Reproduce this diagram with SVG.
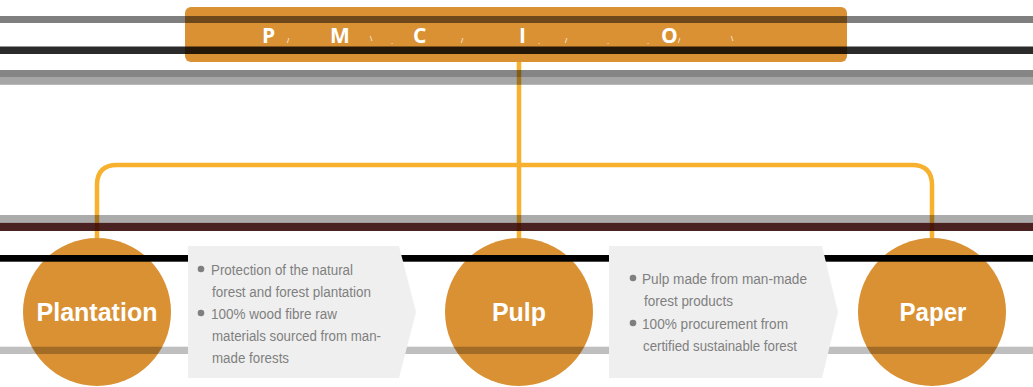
<svg xmlns="http://www.w3.org/2000/svg" width="1033" height="387" viewBox="0 0 1033 387">
<style>
.orange{fill:#d99134}
.conn{fill:none;stroke:#f7b12e;stroke-width:4.5}
.lbl{font-family:"Liberation Sans",Arial,sans-serif;font-weight:bold;fill:#ffffff;text-anchor:middle}
.title{font-family:"Open Sans","Liberation Sans",Arial,sans-serif;font-weight:bold;fill:#ffffff;font-size:21px}
.mark{font-family:"Liberation Sans",Arial,sans-serif;fill:#ffffff;font-size:8px}
.info{fill:#efefef}
.txt{font-family:"Liberation Sans",Arial,sans-serif;font-size:15.5px;fill:#7f7f7f}
.dot{fill:#7f7f7f}
</style>
<rect width="1033" height="387" fill="#ffffff"/>
<g id="node-top">
<rect x="185" y="7" width="662" height="55" rx="6" class="orange"/>
<text class="title" x="262" y="43">P</text>
<text class="mark" x="287" y="43">/</text>
<text class="title" x="330" y="43">M</text>
<text class="mark" x="370" y="41">\</text>
<text class="mark" x="391" y="44">.</text>
<text class="title" x="413" y="43">C</text>
<text class="mark" x="461" y="43">/</text>
<text class="title" x="519" y="43">I</text>
<text class="mark" x="538" y="44">.</text>
<text class="mark" x="565" y="43">/</text>
<text class="mark" x="607" y="44">.</text>
<text class="mark" x="647" y="44">.</text>
<text class="title" x="661" y="43">O</text>
<text class="mark" x="678" y="43">/</text>
<text class="mark" x="731" y="41">\</text>
</g>
<g id="connectors">
<path class="conn" d="M519,62 V238"/>
<path class="conn" d="M97,238 V185 Q97,165 117,165 H912 Q932,165 932,185 V238"/>
</g>
<g id="node-plantation">
<circle cx="97" cy="312" r="74" class="orange"/>
</g>
<g id="node-pulp">
<circle cx="519" cy="312" r="74" class="orange"/>
</g>
<g id="node-paper">
<circle cx="932" cy="312" r="74" class="orange"/>
</g>
<g id="bands">
<rect x="0" y="16" width="1033" height="7" fill="#000" opacity="0.5"/>
<rect x="0" y="46.5" width="1033" height="7.5" fill="#000" opacity="0.83"/>
<rect x="0" y="70" width="1033" height="7.3" fill="#000" opacity="0.48"/>
<rect x="0" y="77.3" width="1033" height="7.5" fill="#000" opacity="0.35"/>
<rect x="0" y="215" width="1033" height="7.8" fill="#000" opacity="0.33"/>
<rect x="0" y="222.8" width="1033" height="8.2" fill="#2f0101" opacity="0.87"/>
<rect x="0" y="255" width="1033" height="6.7" fill="#000"/>
<rect x="0" y="346.7" width="1033" height="7.3" fill="#000" opacity="0.25"/>
</g>
<g id="info-1">
<polygon class="info" points="188,246 399,246 416,312 399,378 188,378"/>
<circle class="dot" cx="201" cy="269" r="3.3"/>
<circle class="dot" cx="201" cy="313" r="3.3"/>
<text class="txt" x="211" y="275" textLength="142" lengthAdjust="spacingAndGlyphs">Protection of the natural</text>
<text class="txt" x="212" y="296.5" textLength="159" lengthAdjust="spacingAndGlyphs">forest and forest plantation</text>
<text class="txt" x="211" y="319" textLength="126" lengthAdjust="spacingAndGlyphs">100% wood fibre raw</text>
<text class="txt" x="212" y="341" textLength="169" lengthAdjust="spacingAndGlyphs">materials sourced from man-</text>
<text class="txt" x="212" y="362.5" textLength="77" lengthAdjust="spacingAndGlyphs">made forests</text>
</g>
<g id="info-2">
<polygon class="info" points="609,246 822,246 838,312 822,378 609,378"/>
<circle class="dot" cx="633" cy="278" r="3.3"/>
<circle class="dot" cx="633" cy="323" r="3.3"/>
<text class="txt" x="642" y="284" textLength="165" lengthAdjust="spacingAndGlyphs">Pulp made from man-made</text>
<text class="txt" x="644" y="306" textLength="89" lengthAdjust="spacingAndGlyphs">forest products</text>
<text class="txt" x="642" y="329" textLength="146" lengthAdjust="spacingAndGlyphs">100% procurement from</text>
<text class="txt" x="643" y="351" textLength="154" lengthAdjust="spacingAndGlyphs">certified sustainable forest</text>
</g>
<g id="labels">
<text class="lbl" x="97" y="321" font-size="25" textLength="121" lengthAdjust="spacingAndGlyphs">Plantation</text>
<text class="lbl" x="519" y="321" font-size="25" textLength="54" lengthAdjust="spacingAndGlyphs">Pulp</text>
<text class="lbl" x="933" y="321" font-size="25" textLength="67" lengthAdjust="spacingAndGlyphs">Paper</text>
</g>
</svg>
